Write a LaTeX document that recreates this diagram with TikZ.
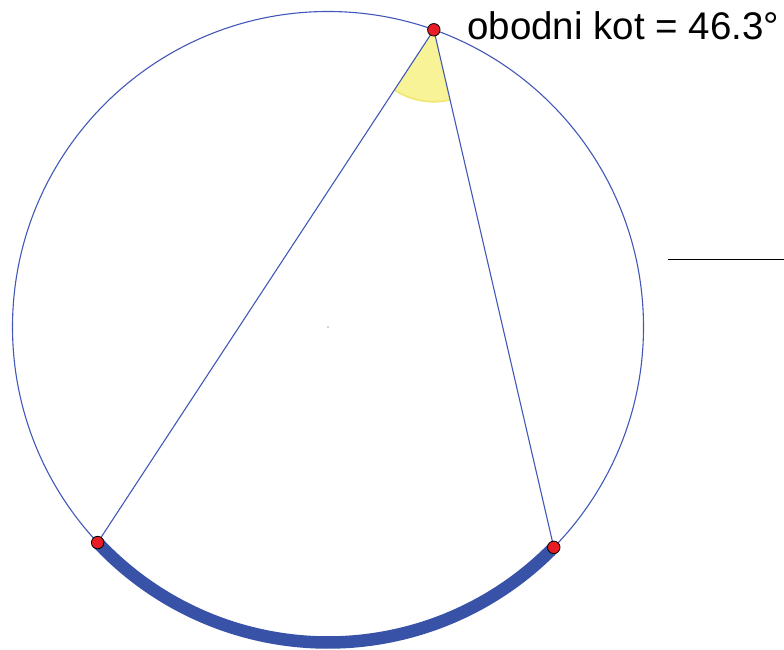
\documentclass[tikz,border=0pt]{standalone}
\usepackage{fontspec}
\setmainfont{Liberation Sans}
\usepackage{tikz}
\usetikzlibrary{positioning, calc}

\definecolor{circblue}{RGB}{66,88,184}
\definecolor{arcblue}{RGB}{56,82,168}
\definecolor{angyellow}{RGB}{247,243,150}
\definecolor{angedge}{RGB}{240,230,110}
\definecolor{ptred}{RGB}{232,28,36}

\begin{document}
\begin{tikzpicture}[
    x=1pt, y=1pt,
    circ/.style     ={draw=circblue, line width=1.1pt},
    chord/.style    ={draw=circblue, line width=1.1pt},
    thickarc/.style ={draw=arcblue, line width=12.5pt},
    angfill/.style  ={fill=angyellow},
    angline/.style  ={draw=angedge, line width=1.5pt},
    pt/.style       ={circle, draw=black, line width=0.8pt, fill=ptred,
                      minimum size=12.5pt, inner sep=0pt},
    lbl/.style      ={anchor=base west, inner sep=0pt,
                      font=\fontsize{38.5}{46}\selectfont}
]
\useasboundingbox (0,0) rectangle (784,649);

% circle and the three points on it
\coordinate (O) at (328,322);
\coordinate (A) at ($(O)+(70.4:315.5)$);
\coordinate (B) at ($(O)+(223.1:315.5)$);
\coordinate (C) at ($(O)+(315.7:315.5)$);

% inscribed angle
\fill[angfill] (A) -- ++(236.75:72) arc[start angle=236.75, end angle=283.05, radius=72] -- cycle;
\draw[angline] (A) ++(236.75:72) arc[start angle=236.75, end angle=283.05, radius=72];

\draw[circ] (O) circle[radius=315.5];
\draw[thickarc] (B) arc[start angle=223.1, end angle=315.7, radius=315.5];

\draw[chord] (A) -- (B);
\draw[chord] (A) -- (C);

\fill[gray!70] (O) circle[radius=0.8];

\node[pt] (pA) at (A) {};
\node[pt] (pB) at (B) {};
\node[pt] (pC) at (C) {};

\node[lbl] (kot) at (467,609) {obodni kot = 46.3°};

% short rule on the right
\coordinate (r1) at (668,389);
\coordinate (r2) at (784,389);
\draw[black, line width=1pt] (r1) -- (r2);
\end{tikzpicture}
\end{document}
